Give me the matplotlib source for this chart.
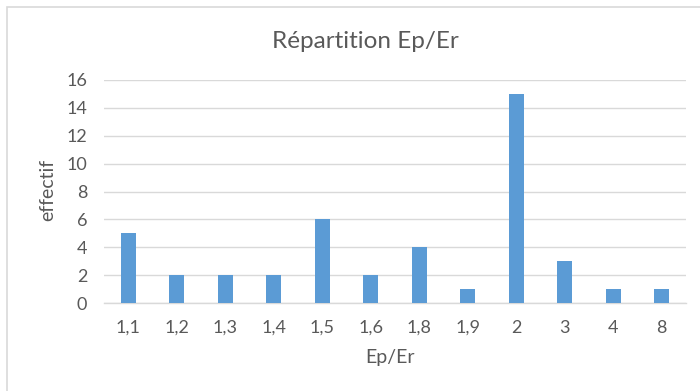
import matplotlib
matplotlib.use("Agg")
import matplotlib.pyplot as plt
from matplotlib.patches import Rectangle

categories = ["1,1", "1,2", "1,3", "1,4", "1,5", "1,6", "1,8", "1,9", "2", "3", "4", "8"]
effectif = [5, 2, 2, 2, 6, 2, 4, 1, 15, 3, 1, 1]
y_ticks = [0, 2, 4, 6, 8, 10, 12, 14, 16]

plt.rcParams["font.family"] = ["Lato", "DejaVu Sans"]

W, H = 700, 391
fig = plt.figure(figsize=(W / 100, H / 100), dpi=100)
fig.patch.set_facecolor("white")

# chart frame
fig.patches.append(Rectangle((6.5 / W, -0.1), 1.2, 1 - 6.5 / H + 0.1,
                             transform=fig.transFigure, fill=False,
                             edgecolor="#d9d9d9", linewidth=1.2))

left, right, bottom, top = 104, 686, 303, 80
ax = fig.add_axes([left / W, 1 - bottom / H, (right - left) / W, (bottom - top) / H])

x = range(len(categories))
ax.bar(x, effectif, width=0.31, color="#5b9bd5", zorder=3)

ax.set_xlim(-0.5, len(categories) - 0.5)
ax.set_ylim(0, 16)
ax.set_yticks(y_ticks)
ax.set_xticks(list(x))
ax.set_xticklabels(categories)
ax.yaxis.grid(True, color="#d9d9d9", linewidth=1, zorder=0)
for s in ["top", "right", "left"]:
    ax.spines[s].set_visible(False)
ax.spines["bottom"].set_color("#d9d9d9")
ax.spines["bottom"].set_linewidth(1)
ax.tick_params(axis="both", length=0, colors="#595959", labelsize=13)
ax.tick_params(axis="x", pad=12)
ax.tick_params(axis="y", pad=12)

fig.text(365 / W, 1 - 42 / H, "Répartition Ep/Er", ha="center", va="center",
         fontsize=17.5, color="#595959")
fig.text(48 / W, 1 - 190 / H, "effectif", ha="center", va="center",
         rotation=90, fontsize=14, color="#595959")
fig.text(390 / W, 1 - 358 / H, "Ep/Er", ha="center", va="center",
         fontsize=14, color="#595959")

fig.savefig("out.png", dpi=100, facecolor="white")
